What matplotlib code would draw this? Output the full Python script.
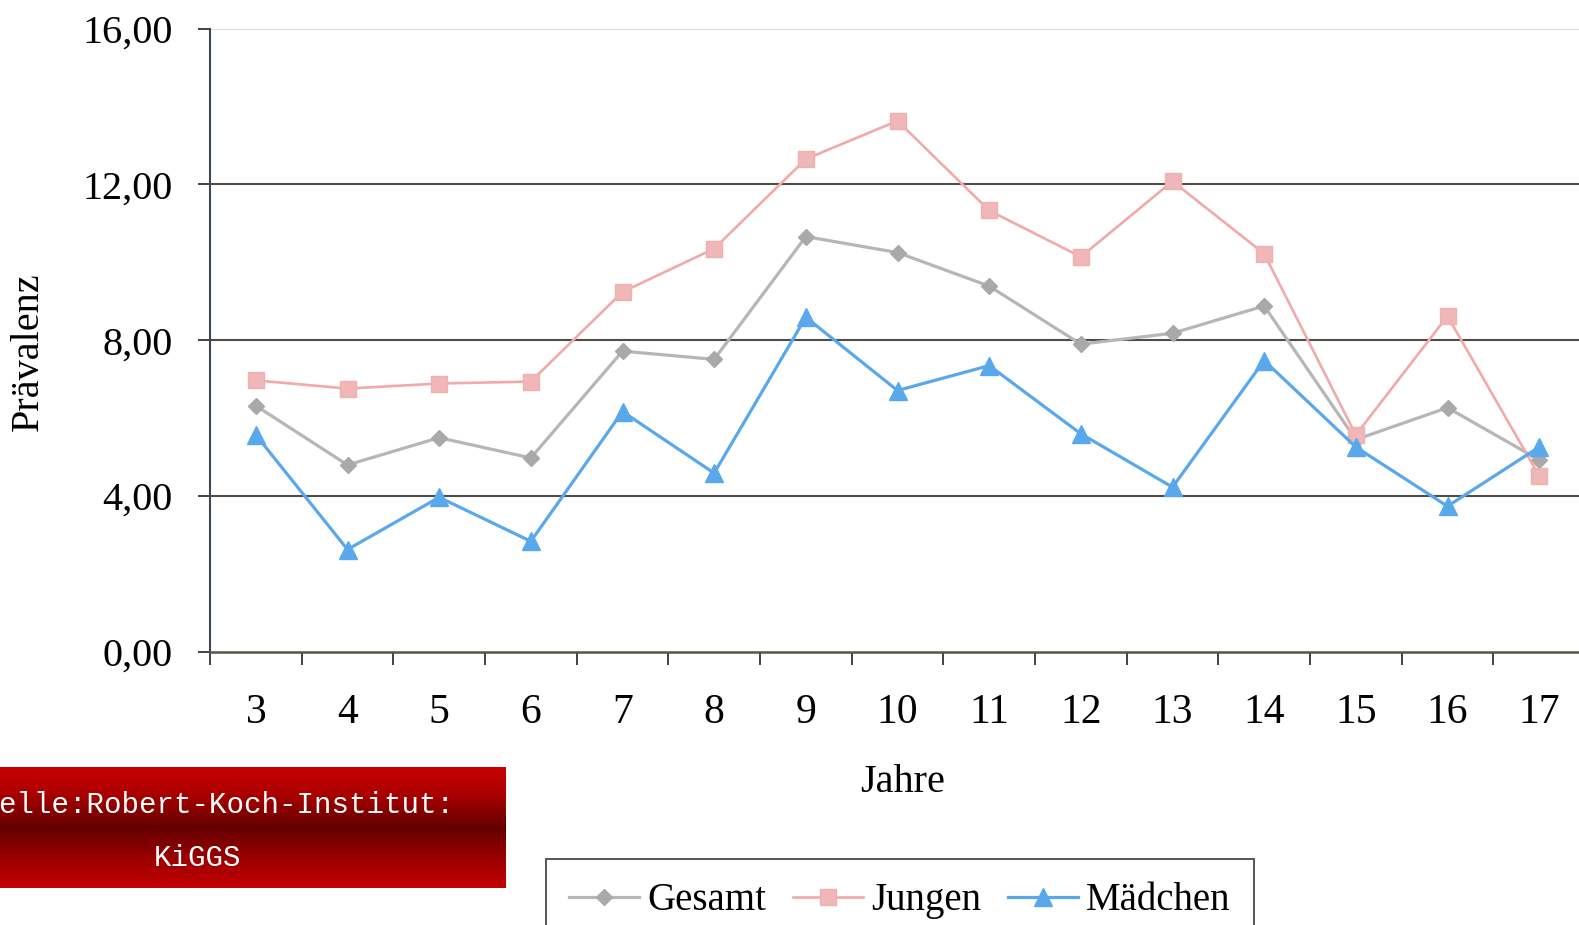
import numpy as np
import matplotlib
matplotlib.use("Agg")
import matplotlib.pyplot as plt
from matplotlib.colors import LinearSegmentedColormap

plt.rcParams['font.family'] = ['Liberation Serif', 'DejaVu Serif']

# Prevalence by age
jahre = ['3', '4', '5', '6', '7', '8', '9', '10', '11', '12', '13', '14', '15', '16', '17']
gesamt = [6.32, 4.80, 5.50, 4.98, 7.72, 7.51, 10.66, 10.25, 9.39, 7.90, 8.18, 8.88, 5.45, 6.27, 4.93]
jungen = [6.97, 6.76, 6.89, 6.94, 9.24, 10.35, 12.65, 13.63, 11.33, 10.14, 12.08, 10.22, 5.57, 8.62, 4.52]
maedchen = [5.57, 2.63, 3.97, 2.84, 6.17, 4.59, 8.59, 6.71, 7.35, 5.60, 4.23, 7.48, 5.26, 3.74, 5.26]
y_ticks = [0, 4, 8, 12, 16]
y_ticklabels = ['0,00', '4,00', '8,00', '12,00', '16,00']
series_names = ['Gesamt', 'Jungen', 'Mädchen']
source_lines = ['Quelle:Robert-Koch-Institut:', 'KiGGS']

W, H = 1579, 925
fig = plt.figure(figsize=(W / 100, H / 100), dpi=100)
fig.patch.set_facecolor('white')

# plot area in pixels
x0, x1 = 210, 1585
y_top, y_bot = 28.5, 652
ax = fig.add_axes([x0 / W, 1 - y_bot / H, (x1 - x0) / W, (y_bot - y_top) / H])

idx = np.arange(len(jahre))
h_g, = ax.plot(idx, gesamt, color='#b6b6b6', lw=2.3, marker='D', ms=8.5,
               mfc='#a9a9a9', mec='#a9a9a9', zorder=3)
h_j, = ax.plot(idx, jungen, color='#f2a9a9', lw=1.9, marker='s', ms=12,
               mfc='#efb7b7', mec='#efb0b0', zorder=4)
h_m, = ax.plot(idx, maedchen, color='#5aa8ec', lw=2.3, marker='^', ms=13,
               mfc='#5aa8ec', mec='#5aa8ec', zorder=5)

ax.set_xlim(-0.5, len(jahre) - 0.5)
ax.set_ylim(0, 16)

# horizontal grid lines
for v in y_ticks[1:-1]:
    ax.axhline(v, color='#4e4e46', lw=1.5, zorder=1)
ax.axhline(16, color='#d4e2e6', lw=1.5, zorder=1)

for s in ['top', 'right']:
    ax.spines[s].set_visible(False)
ax.spines['left'].set_color('#3e4652')
ax.spines['left'].set_linewidth(1.5)
ax.spines['bottom'].set_color('#55554a')
ax.spines['bottom'].set_linewidth(1.8)

ax.set_yticks(y_ticks)
ax.set_yticklabels(y_ticklabels, fontsize=29)
ax.tick_params(axis='y', length=9, width=1.3, color='#333333', pad=18)

# category boundaries as major ticks, labels on minor ticks
ax.set_xticks(np.arange(-0.5, len(jahre), 1.0))
ax.set_xticklabels([])
ax.set_xticks(idx, minor=True)
ax.set_xticklabels(jahre, minor=True, fontsize=30)
ax.tick_params(axis='x', which='major', length=9, width=1.3, color='#333333')
ax.tick_params(axis='x', which='minor', length=0, pad=30)

ax.set_ylabel('Prävalenz', fontsize=29, va='center')
ax.yaxis.set_label_coords((28 - x0) / (x1 - x0), 0.481)
ax.set_xlabel('Jahre', fontsize=29, va='center')
ax.xaxis.set_label_coords((903 - x0) / (x1 - x0), (y_bot - 782) / (y_bot - y_top))

leg = fig.legend([h_g, h_j, h_m], series_names, loc='upper left',
                 bbox_to_anchor=(546 / W, 1 - 859 / H), ncol=3, fontsize=28,
                 frameon=True, fancybox=False, framealpha=1, edgecolor='#555555',
                 handlelength=1.8, handletextpad=0.2, columnspacing=0.7,
                 borderpad=0.6, borderaxespad=0)
leg.get_frame().set_linewidth(1.4)

# red source banner with vertical gradient
bx0, bx1, by0, by1 = 0, 506, 767, 888
bax = fig.add_axes([bx0 / W, 1 - by1 / H, (bx1 - bx0) / W, (by1 - by0) / H])
cmap = LinearSegmentedColormap.from_list(
    'banner', [(0.0, '#c80000'), (0.2, '#b00000'), (0.5, '#640000'),
               (0.75, '#9a0000'), (1.0, '#c40000')])
grad = np.linspace(0, 1, 256).reshape(-1, 1)
bax.imshow(grad, aspect='auto', cmap=cmap, extent=[0, 1, 1, 0])
bax.set_axis_off()

char_w = 17.5
fig.text(-2 * char_w / W, 1 - 805 / H, source_lines[0], color='white',
         family='Liberation Mono', fontsize=21, ha='left', va='center')
fig.text(197 / W, 1 - 858 / H, source_lines[1], color='white',
         family='Liberation Mono', fontsize=21, ha='center', va='center')

fig.savefig('out.png', dpi=100)
